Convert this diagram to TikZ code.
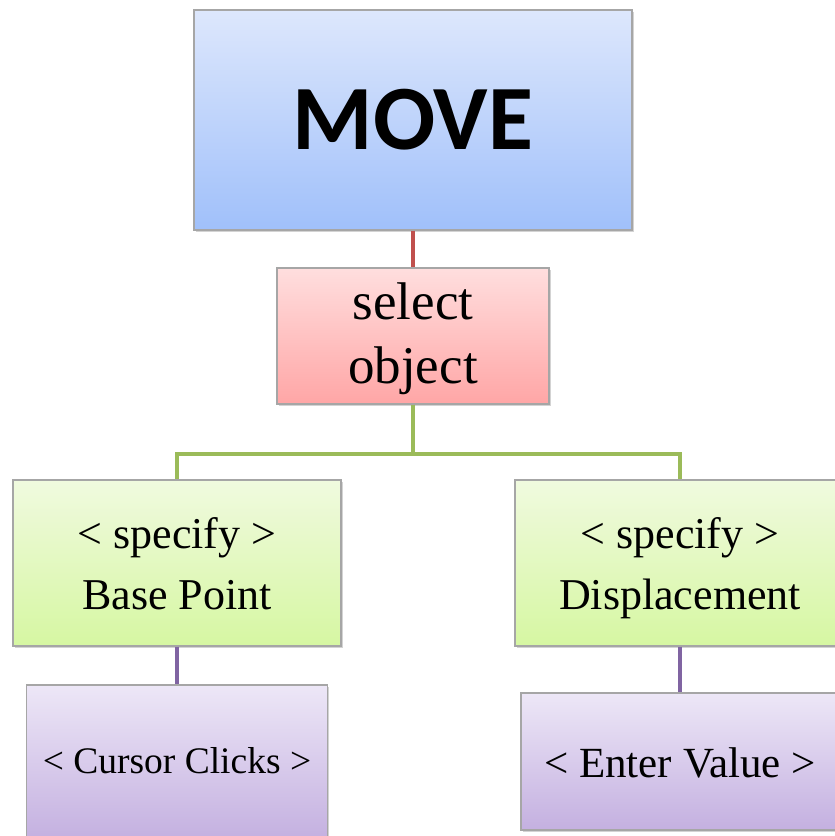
\documentclass[tikz,border=0pt]{standalone}
\usepackage{fontspec}
\setmainfont{Liberation Serif}
\newfontfamily\carlito{Carlito}
\usetikzlibrary{shadows}
\definecolor{bordgray}{HTML}{A6A6A6}
\definecolor{blueTop}{HTML}{DDE7FC}
\definecolor{blueBot}{HTML}{A0C0FA}
\definecolor{redTop}{HTML}{FFDEDE}
\definecolor{redBot}{HTML}{FFA6A6}
\definecolor{greenTop}{HTML}{F0FADF}
\definecolor{greenBot}{HTML}{D6F7A2}
\definecolor{purpTop}{HTML}{EDE7F7}
\definecolor{purpBot}{HTML}{C4B0E0}
\definecolor{lineRed}{HTML}{C0504D}
\definecolor{lineGreen}{HTML}{9BBB59}
\definecolor{linePurp}{HTML}{8064A2}
\newcommand{\topfix}[1]{\rule{0pt}{#1}}
\newcommand{\botfix}[1]{\rule[-#1]{0pt}{#1}}
\tikzset{
  boxbase/.style={rectangle, draw=bordgray, line width=1.2pt, inner sep=0pt, align=center,
    drop shadow={shadow xshift=1.5pt, shadow yshift=-2pt, opacity=0.35}},
  bluebox/.style={boxbase, top color=blueTop, bottom color=blueBot},
  redbox/.style={boxbase, top color=redTop, bottom color=redBot},
  greenbox/.style={boxbase, top color=greenTop, bottom color=greenBot},
  purpbox/.style={boxbase, top color=purpTop, bottom color=purpBot},
  conn/.style={line width=3.2pt},
}
\begin{document}
\begin{tikzpicture}[x=1pt,y=-1pt]
\useasboundingbox (0,0) rectangle (835,836);
\node[bluebox, minimum width=438pt, minimum height=220pt,
  font=\carlito\bfseries\fontsize{92}{100}\selectfont] (move) at (413,120) {MOVE};
\node[redbox, minimum width=272pt, minimum height=136pt,
  font=\fontsize{53}{64}\selectfont] (sel) at (413,336)
  {\topfix{46pt}select\\object\botfix{15pt}};
\node[greenbox, minimum width=328pt, minimum height=166pt,
  font=\fontsize{44}{61}\selectfont] (bp) at (177,563)
  {\topfix{46pt}< specify >\\Base Point\botfix{15pt}};
\node[greenbox, minimum width=330pt, minimum height=166pt,
  font=\fontsize{44}{61}\selectfont] (disp) at (680,563)
  {\topfix{46pt}< specify >\\Displacement\botfix{15pt}};
\node[purpbox, minimum width=301pt, minimum height=155pt,
  font=\fontsize{37.5}{40}\selectfont] (cc) at (177,762.5)
  {\topfix{33pt}< Cursor Clicks >\botfix{12pt}};
\node[purpbox, minimum width=318pt, minimum height=137pt,
  font=\fontsize{43}{46}\selectfont] (ev) at (680,761.5)
  {\topfix{41pt}< Enter Value >\botfix{10pt}};
\coordinate (j) at (413,454);
\draw[conn, lineRed] (move.south) -- (sel.north);
\draw[conn, lineGreen] (sel.south) -- (j);
\draw[conn, lineGreen] (j) -| (bp.north);
\draw[conn, lineGreen] (j) -| (disp.north);
\draw[conn, linePurp] (bp.south) -- (cc.north);
\draw[conn, linePurp] (disp.south) -- (ev.north);
\end{tikzpicture}
\end{document}
